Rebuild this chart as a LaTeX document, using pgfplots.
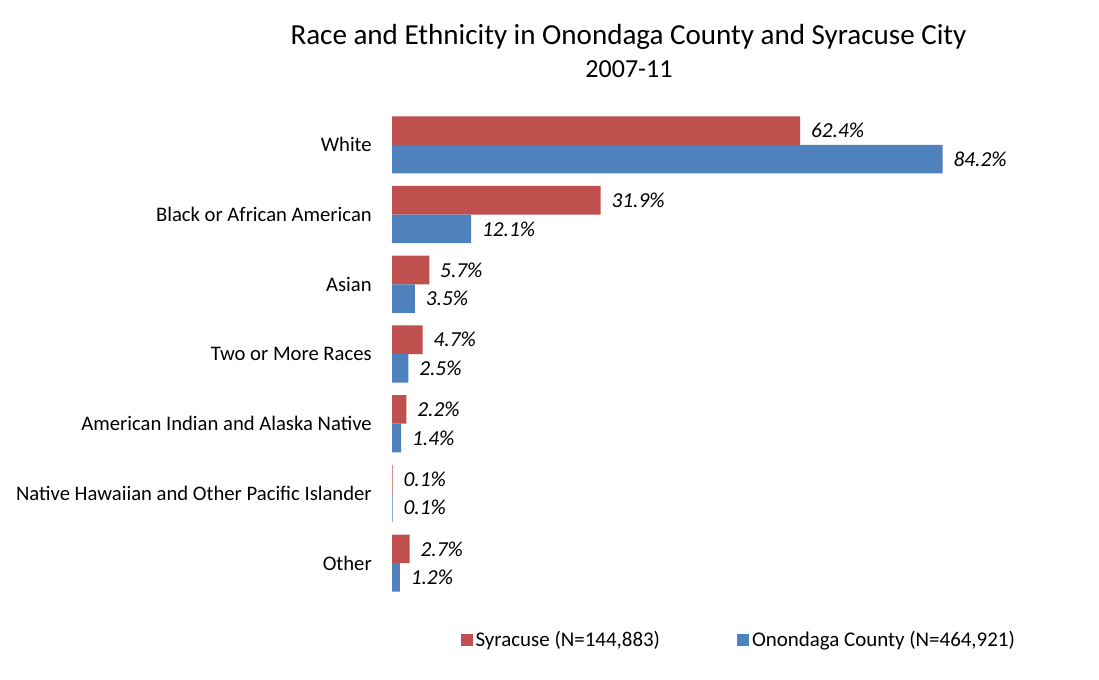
\documentclass[border=0pt]{standalone}
\usepackage{fontspec}
\setmainfont{Carlito}
\usepackage{pgfplots}
\pgfplotsset{compat=1.18}
\definecolor{syr}{HTML}{C0504D}
\definecolor{ono}{HTML}{4F81BD}
\begin{document}
\begin{tikzpicture}[x=0.75pt,y=0.75pt]
\useasboundingbox (0,0) rectangle (1099,679);
\node[font=\fontsize{21.8}{26}\selectfont] at (628.5,642) {Race and Ethnicity in Onondaga County and Syracuse City};
\node[font=\fontsize{19.5}{23}\selectfont] at (629,610) {2007-11};
\begin{axis}[
  at={(294pt,60.75pt)}, anchor=south west,
  scale only axis, width=490.5pt, height=366pt,
  xbar, xmin=0, xmax=100, ymin=-0.5, ymax=6.5,
  axis line style={draw=none}, tick style={draw=none},
  major tick length=0pt,
  xtick=\empty,
  ytick={0,1,2,3,4,5,6},
  yticklabels={Other,Native Hawaiian and Other Pacific Islander,American Indian and Alaska Native,Two or More Races,Asian,Black or African American,White},
  yticklabel style={font=\fontsize{15.5}{18}\selectfont, inner sep=0pt, xshift=-15pt},
  /pgf/number format/assume math mode=true,
  bar width=0.41,
  point meta=x,
  nodes near coords={\pgfmathprintnumber[fixed,fixed zerofill,precision=1]{\pgfplotspointmeta}\%},
  every node near coord/.append style={font=\fontsize{16}{19}\selectfont\itshape, anchor=west, inner sep=0pt, xshift=8pt, black},
  legend columns=2,
  legend style={draw=none, at={(0.531,-0.086)}, anchor=center, font=\fontsize{15.7}{18}\selectfont,
    /tikz/every even column/.append style={column sep=56pt}},
  legend image code/.code={\fill[#1] (0pt,-4.5pt) rectangle (9pt,4.5pt);},
]
\addplot[fill=syr, draw=none, bar shift=0.205] coordinates {(62.4,6) (31.9,5) (5.7,4) (4.7,3) (2.2,2) (0.1,1) (2.7,0)};
\addlegendentry{Syracuse (N=144,883)}
\addplot[fill=ono, draw=none, bar shift=-0.205] coordinates {(84.2,6) (12.1,5) (3.5,4) (2.5,3) (1.4,2) (0.1,1) (1.2,0)};
\addlegendentry{Onondaga County (N=464,921)}
\end{axis}
\end{tikzpicture}
\end{document}
